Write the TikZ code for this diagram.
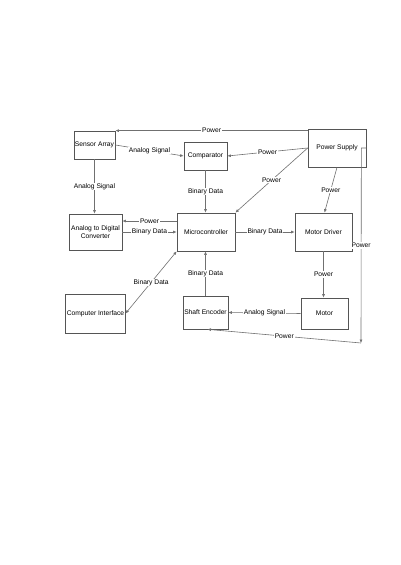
\documentclass[tikz,border=0pt]{standalone}
\usepackage{fontspec}
\setmainfont{Liberation Sans}
\usetikzlibrary{arrows.meta,calc}
\definecolor{boxgray}{HTML}{555555}
\definecolor{linegray}{HTML}{707070}

\tikzset{
  blk/.style={draw=boxgray, line width=0.7pt, inner sep=1pt, font=\fontsize{6.7}{8}\selectfont},
  line/.style={draw=linegray, line width=0.6pt, -{Latex[length=3.5pt,width=3pt]}},
  lbl/.style={fill=white, inner sep=0.8pt, font=\fontsize{6.7}{8}\selectfont}
}

\begin{document}
\begin{tikzpicture}[x=1pt,y=-1pt]
\useasboundingbox[fill=white] (0,0) rectangle (400,565);

\node[blk, minimum width=41pt, minimum height=28pt] (sa) at (94.5,145) {Sensor Array};
\node[blk, minimum width=43pt, minimum height=28pt] (comp) at (205.5,156) {Comparator};
\node[blk, minimum width=58pt, minimum height=38pt] (ps) at (337,148) {Power Supply};
\node[blk, minimum width=53pt, minimum height=36pt, align=center] (adc) at (95.5,232) {Analog to Digital\\Converter};
\node[blk, minimum width=58pt, minimum height=38pt] (mc) at (206,232) {Microcontroller};
\node[blk, minimum width=57pt, minimum height=38pt] (md) at (323.5,232) {Motor Driver};
\node[blk, minimum width=57pt, minimum height=39pt] (ci) at (95.5,313.5) {Computer Interface};
\node[blk, minimum width=45pt, minimum height=33pt] (se) at (205.5,312.5) {Shaft Encoder};
\node[blk, minimum width=47pt, minimum height=31pt] (mo) at (324.5,313.5) {Motor};
\coordinate (pwr) at (361,343);

\draw[line] (ps.west |- sa.north east) -- node[lbl]{Power} (sa.north east);
\draw[line] (sa.east) -- node[lbl]{Analog Signal} (comp.west);
\draw[line] (ps.west) -- node[lbl]{Power} (comp.east);
\draw[line] (sa.south) -- node[lbl]{Analog Signal} (sa.south |- adc.north);
\draw[line] (comp.south) -- node[lbl]{Binary Data} (comp.south |- mc.north);
\draw[line] (ps.west) -- node[lbl]{Power} (mc.north east);
\draw[line] (ps.south) -- node[lbl]{Power} ([xshift=1pt]md.north);
\draw[line] ([yshift=11pt]mc.west) -- node[lbl]{Power} ([yshift=11pt]adc.east);
\draw[line] (adc.east) -- node[lbl]{Binary Data} (mc.west);
\draw[line] (mc.east) -- node[lbl]{Binary Data} (md.west);
\draw[line, {Latex[length=3.5pt,width=3pt]}-{Latex[length=3.5pt,width=3pt]}] (ci.east) -- node[lbl]{Binary Data} (mc.south west);
\draw[line] (se.north) -- node[lbl]{Binary Data} (mc.south -| se.north);
\draw[line] (md.south) -- node[lbl]{Power} (md.south |- mo.north);
\draw[line] (mo.west) -- node[lbl]{Analog Signal} (se.east);
\draw[line] (ps.east) -- ++(-5,0) -- node[lbl]{Power} (pwr);
\draw[line] (pwr) -- node[lbl]{Power} ([xshift=2pt]se.south);
\end{tikzpicture}
\end{document}
